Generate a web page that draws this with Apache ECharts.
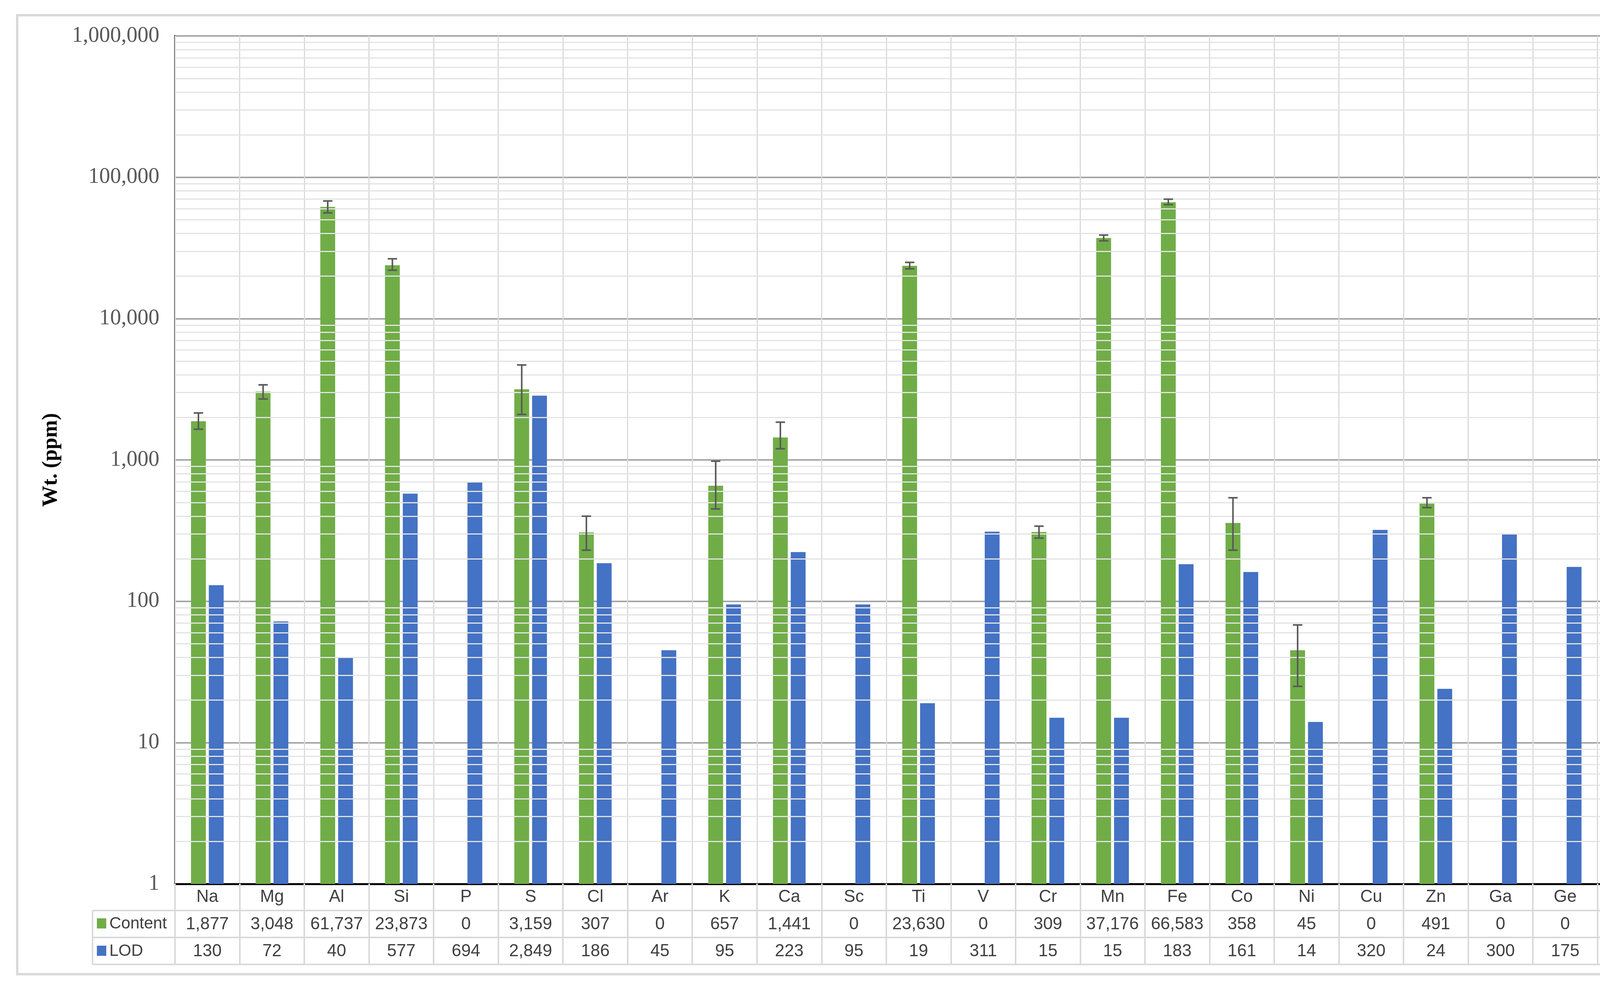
<!DOCTYPE html>
<html>
<head>
<meta charset="utf-8">
<script src="https://cdn.jsdelivr.net/npm/echarts@6/dist/echarts.min.js"></script>
<style>html,body{margin:0;padding:0;background:#fff}#main{width:6502px;height:2536px}</style>
</head>
<body>
<div id="main"></div>
<script>
// 元素
var elements = ['Na','Mg','Al','Si','P','S','Cl','Ar','K','Ca','Sc','Ti','V','Cr','Mn','Fe','Co','Ni','Cu','Zn','Ga','Ge','As','Se','Br','Kr','Rb','Sr','Y','Zr','Nb','Sn','Ba','Nd','Ta','W'];
// 含量 (null = 表格空白)
var content = [1877,3048,61737,23873,0,3159,307,0,657,1441,0,23630,0,309,37176,66583,358,45,0,491,0,0,120,353,0,347,0,0,7789,1267,349566,31184,null,null,77626,4433];
var lod = [130,72,40,577,694,2849,186,45,95,223,95,19,311,15,15,183,161,14,320,24,300,175,61,256,62,99,115,133,143,205,222,323,2931,65,93,208];
// 误差线 [下, 上]
var errLow  = [1650,2700,56000,22000,null,2100,230,null,450,1200,null,22500,null,280,35500,64000,230,25,null,460,null,null,75,200,null,230,null,null,2000,800,330000,29500,null,null,73000,3700];
var errHigh = [2150,3400,68000,26500,null,4700,400,null,980,1850,null,25000,null,340,39000,70000,540,68,null,540,null,null,180,740,null,530,null,null,13500,1900,370000,33000,null,null,82000,5200];
var yTicks = [1,10,100,1000,10000,100000,1000000];

var fmt = function (v) { return v === null ? '' : v.toLocaleString('en-US'); };
var contentBars = content.map(function (v) { return v ? v : '-'; });
var errData = [];
errLow.forEach(function (l, i) { if (l !== null) errData.push([i, l, errHigh[i]]); });

// 次网格线
var minorLines = [];
yTicks.slice(0, -1).forEach(function (d) {
  for (var k = 2; k <= 9; k++) minorLines.push({ yAxis: d * k });
});

var tableFont = { fontFamily: 'Liberation Sans Narrow, Liberation Sans, sans-serif', fontSize: 44, color: '#404040' };
function tableAxis(offset, data, labels) {
  return {
    type: 'category', gridIndex: 0, position: 'bottom', offset: offset, data: data,
    axisLine: { show: true, lineStyle: { color: '#d9d9d9', width: 4 } },
    axisTick: { show: true, inside: true, length: 69, lineStyle: { color: '#d9d9d9', width: 4 } },
    axisLabel: Object.assign({ show: labels, margin: 14, interval: 0 }, tableFont),
    splitLine: { show: false }
  };
}

var chart = echarts.init(document.getElementById('main'));
var option = {
  animation: false,
  backgroundColor: '#fff',
  grid: { left: 448, right: 95, top: 92, bottom: 274, show: true, borderColor: '#000', borderWidth: 4 },
  xAxis: [
    {
      type: 'category', data: elements, position: 'bottom',
      axisLine: { lineStyle: { color: '#000', width: 5 } },
      axisTick: { show: true, length: 66, lineStyle: { color: '#d9d9d9', width: 4 } },
      axisLabel: Object.assign({ margin: 12, interval: 0 }, tableFont),
      splitLine: { show: true, lineStyle: { color: '#d9d9d9', width: 3 } }
    },
    tableAxis(68, content.map(fmt), true),
    tableAxis(137, lod.map(fmt), true),
    tableAxis(206, elements, false)
  ],
  yAxis: {
    type: 'log', logBase: 10, min: 1, max: 1000000,
    name: 'Wt. (ppm)', nameLocation: 'middle', nameGap: 290,
    nameTextStyle: { fontFamily: 'Liberation Serif', fontWeight: 'bold', fontSize: 54, color: '#000' },
    axisLine: { show: false }, axisTick: { show: false },
    axisLabel: { fontFamily: 'Liberation Serif', fontSize: 56, color: '#595959', margin: 40, formatter: function (v) { return fmt(v); } },
    splitLine: { show: true, lineStyle: { color: '#a6a6a6', width: 4 } }
  },
  series: [
    {
      name: 'Content', type: 'bar', data: contentBars, barWidth: 38, barGap: '20%',
      itemStyle: { color: '#70ad47' },
      markLine: { silent: true, symbol: 'none', label: { show: false }, lineStyle: { color: '#e3e3e3', width: 3, type: 'solid' }, data: minorLines },
      z: 3
    },
    { name: 'LOD', type: 'bar', data: lod, barWidth: 38, itemStyle: { color: '#4472c4' }, z: 3 },
    {
      type: 'custom', data: errData, z: 5,
      renderItem: function (params, api) {
        var lo = api.coord([api.value(0), api.value(1)]);
        var hi = api.coord([api.value(0), api.value(2)]);
        var x = lo[0] - 22.8, w = 12;
        var st = { stroke: '#595959', lineWidth: 4 };
        return { type: 'group', children: [
          { type: 'line', shape: { x1: x, y1: lo[1], x2: x, y2: hi[1] }, style: st },
          { type: 'line', shape: { x1: x - w, y1: lo[1], x2: x + w, y2: lo[1] }, style: st },
          { type: 'line', shape: { x1: x - w, y1: hi[1], x2: x + w, y2: hi[1] }, style: st }
        ] };
      }
    }
  ],
  graphic: [
    { type: 'rect', shape: { x: 44, y: 39, width: 6430, height: 2454 }, style: { fill: null, stroke: '#d9d9d9', lineWidth: 6 }, z: -10 },
    { type: 'line', shape: { x1: 237, y1: 2330, x2: 448, y2: 2330 }, style: { stroke: '#d9d9d9', lineWidth: 4 } },
    { type: 'line', shape: { x1: 237, y1: 2399, x2: 448, y2: 2399 }, style: { stroke: '#d9d9d9', lineWidth: 4 } },
    { type: 'line', shape: { x1: 237, y1: 2468, x2: 448, y2: 2468 }, style: { stroke: '#d9d9d9', lineWidth: 4 } },
    { type: 'line', shape: { x1: 237, y1: 2330, x2: 237, y2: 2468 }, style: { stroke: '#d9d9d9', lineWidth: 4 } },
    { type: 'rect', shape: { x: 248, y: 2350, width: 24, height: 26 }, style: { fill: '#70ad47' } },
    { type: 'text', x: 280, y: 2364, style: { text: 'Content', verticalAlign: 'middle', fill: '#404040', font: '42px "Liberation Sans Narrow", "Liberation Sans", sans-serif' } },
    { type: 'rect', shape: { x: 248, y: 2420, width: 24, height: 26 }, style: { fill: '#4472c4' } },
    { type: 'text', x: 280, y: 2434, style: { text: 'LOD', verticalAlign: 'middle', fill: '#404040', font: '42px "Liberation Sans Narrow", "Liberation Sans", sans-serif' } }
  ]
};
chart.setOption(option);
</script>
</body>
</html>
